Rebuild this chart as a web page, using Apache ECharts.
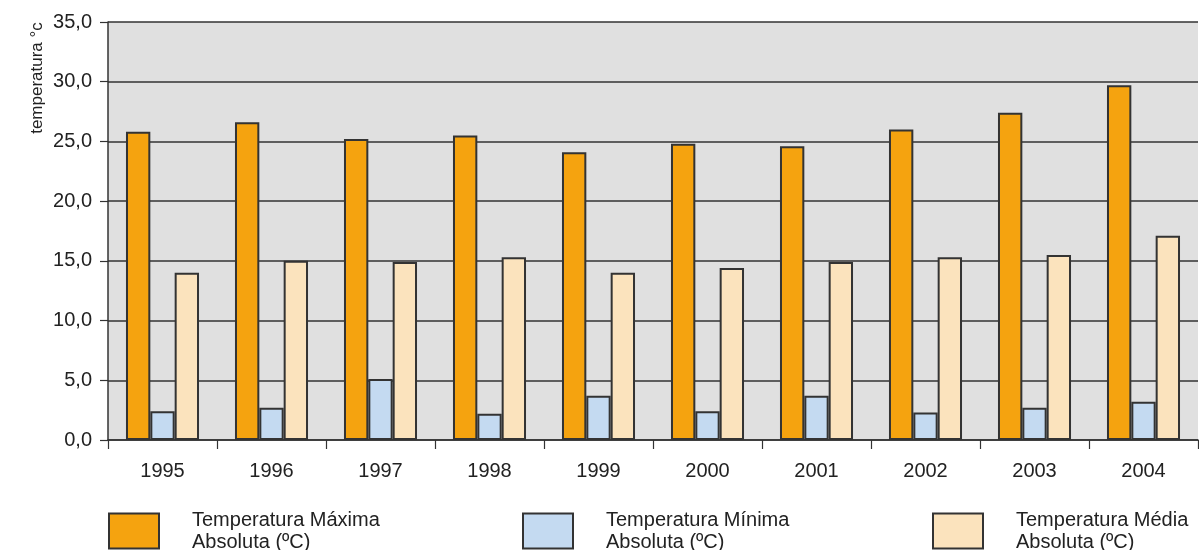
<!DOCTYPE html>
<html>
<head>
<meta charset="utf-8">
<script src="https://cdn.jsdelivr.net/npm/echarts@6/dist/echarts.min.js"></script>
<style>
html,body{margin:0;padding:0;background:#fff;}
#chart{width:1199px;height:550px;}
</style>
</head>
<body>
<div id="chart"></div>
<script>
var years = ['1995','1996','1997','1998','1999','2000','2001','2002','2003','2004'];
var tempMax = [25.8, 26.6, 25.2, 25.5, 24.1, 24.8, 24.6, 26.0, 27.4, 29.7];
var tempMin = [2.4, 2.7, 5.1, 2.2, 3.7, 2.4, 3.7, 2.3, 2.7, 3.2];
var tempMed = [14.0, 15.0, 14.9, 15.3, 14.0, 14.4, 14.9, 15.3, 15.5, 17.1];
var seriesNames = ['Temperatura Máxima\nAbsoluta (ºC)', 'Temperatura Mínima\nAbsoluta (ºC)', 'Temperatura Média\nAbsoluta (ºC)'];
var yAxisTitle = 'temperatura °c';

var FONT = '"Liberation Sans", Arial, sans-serif';
var colors = ['#f5a30f', '#c4daf1', '#fbe3bd'];
var chart = echarts.init(document.getElementById('chart'));

function legendFor(i, left) {
  return {
    data: [seriesNames[i]],
    left: left, top: 504,
    itemWidth: 50, itemHeight: 35,
    icon: 'rect',
    selectedMode: false,
    textStyle: {fontFamily: FONT, fontSize: 20, lineHeight: 22, color: '#222', padding: [0,0,0,28]}
  };
}

var barStyle = function (c) {
  return {color: c, borderColor: '#333', borderWidth: 2};
};

chart.setOption({
  animation: false,
  backgroundColor: '#ffffff',
  grid: {left: 108, right: 1, top: 22, bottom: 110, show: true, backgroundColor: '#e0e0e0', borderWidth: 0},
  legend: [legendFor(0, 103), legendFor(1, 517), legendFor(2, 927)],
  graphic: [{
    type: 'text', x: 37, y: 78, rotation: Math.PI / 2,
    style: {text: yAxisTitle, font: '17px "Liberation Sans", Arial, sans-serif', fill: '#222', textAlign: 'center', textVerticalAlign: 'middle'}
  }],
  xAxis: {
    type: 'category', data: years,
    axisLine: {show: true, lineStyle: {color: '#333', width: 1.5}},
    axisTick: {show: true, alignWithLabel: false, length: 9, lineStyle: {color: '#333', width: 1.2}},
    axisLabel: {fontFamily: FONT, fontSize: 20, color: '#222', margin: 21},
    splitLine: {show: false}
  },
  yAxis: {
    type: 'value', min: 0, max: 35, interval: 5,
    axisLine: {show: true, lineStyle: {color: '#333', width: 1.5}},
    axisTick: {show: true, length: 8, lineStyle: {color: '#333', width: 1.2}},
    axisLabel: {fontFamily: FONT, fontSize: 20, color: '#222', margin: 16,
      formatter: function (v) { return v.toFixed(1).replace('.', ','); }},
    splitLine: {show: true, lineStyle: {color: '#333', width: 1.5}}
  },
  series: [
    {name: seriesNames[0], type: 'bar', data: tempMax, barGap: '0%', barCategoryGap: '33%', itemStyle: barStyle(colors[0])},
    {name: seriesNames[1], type: 'bar', data: tempMin, barGap: '0%', barCategoryGap: '33%', itemStyle: barStyle(colors[1])},
    {name: seriesNames[2], type: 'bar', data: tempMed, barGap: '0%', barCategoryGap: '33%', itemStyle: barStyle(colors[2])}
  ]
});
</script>
</body>
</html>
